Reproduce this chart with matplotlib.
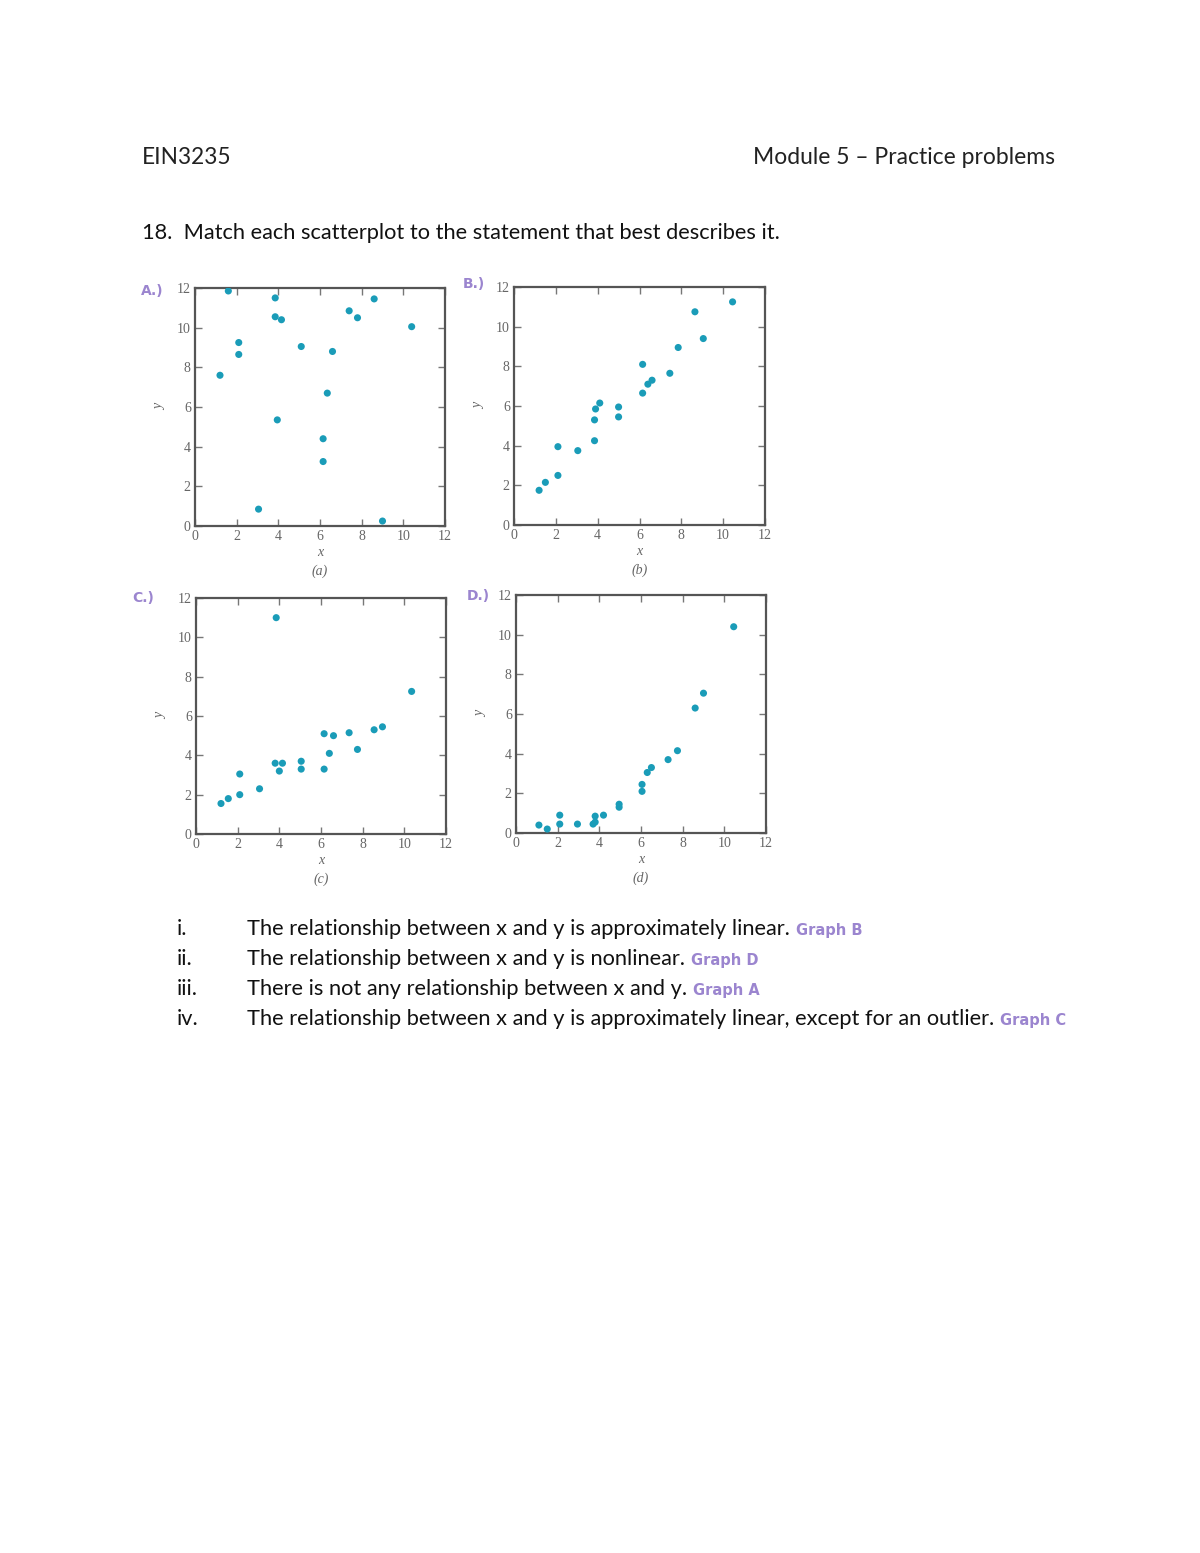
import matplotlib
matplotlib.use("Agg")
import matplotlib.pyplot as plt

# scatter data
xa = [1.2, 1.6, 2.1, 2.1, 3.05, 3.85, 3.85, 4.15, 3.95, 5.1, 6.6, 6.35, 6.15, 6.15, 7.4, 7.8, 8.6, 9.0, 10.4]
ya = [7.6, 11.85, 9.25, 8.65, 0.85, 11.5, 10.55, 10.4, 5.35, 9.05, 8.8, 6.7, 4.4, 3.25, 10.85, 10.5, 11.45, 0.25, 10.05]

xb = [1.2, 1.5, 2.1, 2.1, 3.05, 3.85, 3.85, 3.9, 4.1, 5.0, 5.0, 6.15, 6.15, 6.4, 6.6, 7.45, 7.85, 8.65, 9.05, 10.45]
yb = [1.75, 2.15, 2.5, 3.95, 3.75, 4.25, 5.3, 5.85, 6.15, 5.95, 5.45, 8.1, 6.65, 7.1, 7.3, 7.65, 8.95, 10.75, 9.4, 11.25]

xc = [1.2, 1.55, 2.1, 2.1, 3.05, 3.85, 3.8, 4.15, 4.0, 5.05, 5.05, 6.15, 6.6, 6.15, 6.4, 7.35, 7.75, 8.55, 8.95, 10.35]
yc = [1.55, 1.8, 3.05, 2.0, 2.3, 11.0, 3.6, 3.6, 3.2, 3.7, 3.3, 5.1, 5.0, 3.3, 4.1, 5.15, 4.3, 5.3, 5.45, 7.25]

xd = [1.1, 1.5, 2.1, 2.1, 2.95, 3.7, 3.8, 3.8, 4.2, 4.95, 4.95, 6.05, 6.05, 6.3, 6.5, 7.3, 7.75, 8.6, 9.0, 10.45]
yd = [0.4, 0.2, 0.9, 0.45, 0.45, 0.45, 0.55, 0.85, 0.9, 1.45, 1.3, 2.45, 2.1, 3.05, 3.3, 3.7, 4.15, 6.3, 7.05, 10.4]

ticks = [0, 2, 4, 6, 8, 10, 12]
panel_tags = ["A.)", "B.)", "C.)", "D.)"]
captions = ["(a)", "(b)", "(c)", "(d)"]

statements = [
    ("i.", "The relationship between x and y is approximately linear.", "Graph B"),
    ("ii.", "The relationship between x and y is nonlinear.", "Graph D"),
    ("iii.", "There is not any relationship between x and y.", "Graph A"),
    ("iv.", "The relationship between x and y is approximately linear, except for an outlier.", "Graph C"),
]

W, H = 1200, 1553
fig = plt.figure(figsize=(W / 100, H / 100), dpi=100)
fig.patch.set_facecolor("white")

def px(x, y):
    return x / W, 1 - y / H

# axes boxes in pixels: left, top, right, bottom
boxes = [(195, 288, 445, 526), (514, 287, 765, 525), (196, 598, 446, 834), (516, 595, 766, 833)]
tag_pos = [(152, 291), (474, 284), (143, 598), (478, 596)]
data = [(xa, ya), (xb, yb), (xc, yc), (xd, yd)]

dot = "#1a9cb8"
purple = "#9b85cf"
tickc = "#666666"

for (l, t, r, b), (xs, ys), cap, tag, tp in zip(boxes, data, captions, panel_tags, tag_pos):
    ax = fig.add_axes([l / W, 1 - b / H, (r - l) / W, (b - t) / H])
    ax.scatter(xs, ys, s=26, color=dot, edgecolors="none", zorder=3)
    ax.set_xlim(0, 12)
    ax.set_ylim(0, 12)
    ax.set_xticks(ticks)
    ax.set_yticks(ticks)
    ax.tick_params(direction="in", top=True, right=True, length=5, width=1,
                   color="#777777", labelcolor=tickc, labelsize=10, pad=3)
    for lab in ax.get_xticklabels() + ax.get_yticklabels():
        lab.set_family("Liberation Serif")
    for sp in ax.spines.values():
        sp.set_linewidth(1.6)
        sp.set_color("#555555")
    ax.text(0.5, -0.113, "x", transform=ax.transAxes, ha="center", va="center",
            fontsize=10, style="italic", family="Liberation Serif", color=tickc)
    ax.text(0.5, -0.19, cap, transform=ax.transAxes, ha="center", va="center",
            fontsize=10, style="italic", family="Liberation Serif", color=tickc)
    ax.text(-0.14, 0.5, "y", transform=ax.transAxes, ha="center", va="center",
            fontsize=10, style="italic", family="Liberation Serif", color=tickc, rotation=90)
    fx, fy = px(*tp)
    fig.text(fx, fy, tag, ha="center", va="center", fontsize=10, fontweight="bold",
             color=purple, family="DejaVu Sans")

# page text
fig.text(*px(142, 158), "EIN3235", ha="left", va="center", fontsize=16.3, family="Lato", color="#222222")
fig.text(*px(1055, 158), "Module 5 \u2013 Practice problems", ha="right", va="center",
         fontsize=16.5, family="Lato", color="#222222")
fig.text(*px(142, 233), "18.  Match each scatterplot to the statement that best describes it.",
         ha="left", va="center", fontsize=15.7, family="Lato", color="#111111")

ys_list = [929, 959, 989, 1019]
for (num, txt, ans), yy in zip(statements, ys_list):
    fig.text(*px(177, yy), num, ha="left", va="center", fontsize=15.7, family="Lato", color="#111111")
    t = fig.text(*px(247, yy), txt, ha="left", va="center", fontsize=15.7, family="Lato", color="#111111")
    fig.canvas.draw()
    bb = t.get_window_extent()
    fig.text(bb.x1 / W + 6 / W, 1 - (yy + 2) / H, ans, ha="left", va="center",
             fontsize=10.5, fontweight="bold", color=purple, family="DejaVu Sans")

fig.savefig("out.png", dpi=100, facecolor="white")
